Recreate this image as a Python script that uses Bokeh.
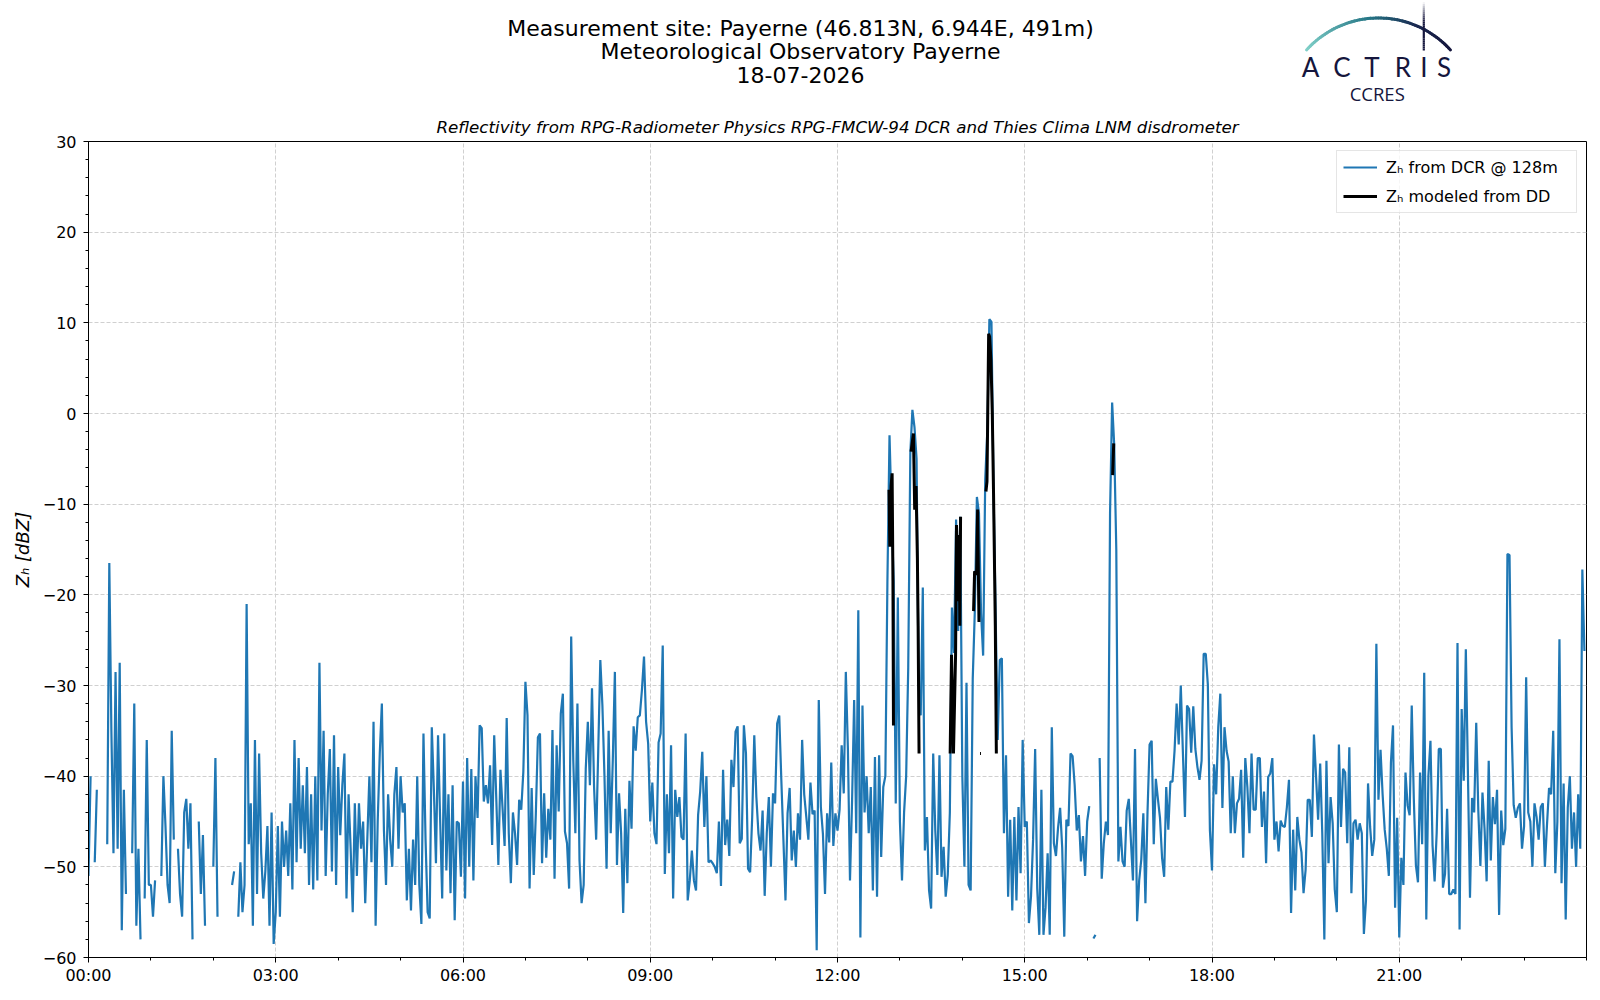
import numpy as np
from datetime import datetime, timezone
from bokeh.plotting import figure
from bokeh.models import Range1d, FixedTicker, DatetimeTickFormatter, ColumnDataSource
from bokeh.layouts import column
from bokeh.core.properties import value
from bokeh.embed import file_html
from bokeh.resources import INLINE

nan = float("nan")

# ---------------- data ----------------
title_lines = ["Measurement site: Payerne (46.813N, 6.944E, 491m)",
               "Meteorological Observatory Payerne",
               "18-07-2026"]
subtitle = "Reflectivity from RPG-Radiometer Physics RPG-FMCW-94 DCR and Thies Clima LNM disdrometer"
label_dcr = "Z\u2095 from DCR @ 128m"
label_dd = "Z\u2095 modeled from DD"
y_label = "Z\u2095 [dBZ]"
x_tick_hours = [0, 3, 6, 9, 12, 15, 18, 21]
x_tick_labels = ["00:00", "03:00", "06:00", "09:00", "12:00", "15:00", "18:00", "21:00"]
y_ticks = [-60, -50, -40, -30, -20, -10, 0, 10, 20, 30]

# DCR reflectivity, one value every 2 minutes, per hour (dBZ)
H00 = [-51, -40, nan, -49.5, -41.5, nan, nan, nan, nan, -47.5, -16.5, -35, -48.5, -28.5, -48, -27.5, -57, -41.5, -53, nan, nan, -48.5, -32, -56.5, -48, -58, nan, -53.5, -36, -52]
H01 = [-52, -55.5, -51.5, nan, nan, -51, -40, -45.5, -52, -54, -35, -47, nan, -48, -53, -55.5, -44, -42.5, -48, -43, -58, nan, nan, -45, -53, -46.5, -56.5, nan, nan, nan]
H02 = [-50, -38, -55.5, nan, nan, nan, nan, nan, nan, -52, -50.5, nan, -55.5, -49.5, -55, -52, -21, -47.5, -43, -56.5, -36, -53, -37.5, -48.5, -53.5, -50.5, -45.5, -56.5, -44, -58.5]
H03 = [-55, -45.5, -55.5, -45, -50, -46, -51, -43, -52.5, -36, -49.5, -38, -48, -41, -48.5, -39, -52, -42, -52.5, -40, -51.5, -27.5, -46, -35, -51, -42, -37, -50.5, -35.5, -52]
H04 = [-39, -46.5, -41, -37.5, -53.5, -42, -48, -55, -43, -51, -43, -48, -45, -54, -47, -40, -49.5, -34, -56.5, -45, -37.5, -32, -46, -52, -42, -47, -50, -42, -39, -48]
H05 = [-40, -44, -43, -53.7, -48, -54.8, -47, -52, -40, -52, -56.3, -35.3, -47, -55, -55.7, -34.6, -41.5, -49.6, -35.5, -44.7, -53.5, -35.3, -50.4, -42, -52.9, -41, -55.9, -45, -45.2, -51.1]
H06 = [-40.6, -53.5, -38, -50, -39.2, -51.5, -40, -44.6, -34.4, -34.7, -42.8, -41, -43, -38.8, -47.6, -35.5, -42.5, -49.8, -39.3, -43.5, -47.7, -33.6, -46.3, -51.8, -44, -46.3, -49.8, -42.6, -43.7, -39.5]
H07 = [-29.6, -33.3, -52.4, -41.3, -50.9, -44.2, -35.7, -35.3, -49.6, -41.9, -49, -43.6, -47, -34.9, -51.3, -36.6, -43.9, -33.1, -30.9, -46.1, -47.4, -52.4, -24.6, -38.2, -46.3, -32, -49.3, -54, -52, -39.2]
H08 = [-34, -41, -30.3, -41.2, -47, -37.2, -27.2, -32.2, -40, -50.2, -35, -46.3, -38.2, -28.5, -49.8, -41.9, -46.3, -55.1, -43.6, -51.8, -40.5, -45.8, -34.5, -37.2, -33.5, -33.3, -30.5, -26.8, -34, -36.4]
H09 = [-45, -40.7, -46.3, -47.5, -36.3, -35.3, -25.6, -50.8, -42, -48.5, -36.6, -53.5, -41.5, -44.5, -42.3, -46.7, -47, -35.3, -53.7, -51.5, -48.2, -51.5, -52.6, -44.3, -41.7, -37.3, -45.6, -40, -49.5, -49.3]
H10 = [-49.6, -50, -50.7, -45, -52.1, -39.3, -47.6, -44.8, -48.8, -38.2, -41.2, -35.1, -34.5, -47.4, -46.9, -34.4, -37.5, -50.2, -50.6, -44.5, -35.5, -42.3, -46.3, -48.2, -43.8, -53.2, -46.3, -42.3, -50, -41.9]
H11 = [-43, -34.2, -33.3, -40.4, -47, -53.7, -44.1, -41.3, -49.3, -46, -50, -44.1, -47, -36, -42, -44.5, -47, -40.7, -44.2, -43.8, -59.2, -31.6, -43.4, -46.4, -53, -44.1, -47.3, -38.5, -47.7, -44.1]
H12 = [-46, -43.7, -36.6, -41.9, -28.5, -37, -51.5, -42.8, -31.6, -46.3, -21.7, -57.8, -32.2, -44, -40, -46.3, -41.2, -52.6, -37.9, -53.3, -37.7, -48.9, -41.2, -40, -18.3, -2.4, -11, -18.5, -43, -20.3]
H13 = [-45, -51.5, -44, -40, -28, -4.4, 0.4, -1.5, -5, -30, -33.3, -19.2, -48.2, -44.5, -52.6, -54.6, -37.5, -46, -50.9, -37.7, -51.1, -47.8, -53.3, -50.9, -44, -21.4, -26.4, -11.7, -24, -11.4]
H14 = [-40, -50, -29.7, -52, -52.6, -29.3, -21.8, -9.2, -11, -22, -26.7, -7.3, -2, 10.4, 10.1, -8.5, -22, -36, -27.2, -27, -46.3, -37.7, -53.3, -44.8, -54.8, -44.5, -53.7, -43.4, -50.7, -36]
H15 = [-45.6, -45, -56.2, -53.3, -47, -37, -52.4, -57.5, -41.5, -57.5, -54.5, -48.5, -57.5, -34.6, -47.4, -48.8, -45.7, -43.5, -47.9, -57.7, -44.8, -45.5, -37.5, -37.8, -41, -46, -44.3, -49.4, -46.6, -51]
H16 = [-45, -43.3, nan, -57.9, -57.5, nan, -38, -51.3, -47.4, -45, -46.5, -11, 1.2, -3.5, -15, -49.4, -45.6, -49.4, -50, -43.8, -42.5, -47, -51.5, -37, -56, -51.5, -49.2, -44.1, -54, -44]
H17 = [-36.5, -36.1, -47.5, -40.3, -42.5, -44.6, -49, -51.1, -41.2, -45.9, -40.6, -40.6, -37.2, -32, -36.5, -30, -37.3, -44.5, -32.2, -32.6, -37.4, -32.3, -37, -39, -40.4, -38.3, -26.5, -26.5, -29.9, -46]
H18 = [-50.4, -38.7, -42, -34.6, -30.9, -43.5, -34.6, -37.2, -38.4, -46.3, -40, -46.3, -43, -42.5, -39.3, -49, -38, -41.2, -46.3, -37.5, -43.7, -43.7, -38, -38, -45.6, -41.7, -49.6, -40.1, -39.7, -38]
H19 = [-47, -45, -48.3, -44.9, -45.5, -45.6, -43.4, -40.4, -55.1, -45.9, -52.6, -44.5, -47, -48.4, -52.9, -50.3, -42.6, -42.6, -46.7, -35.4, -40, -44.8, -38.6, -46.3, -58, -38.3, -49.6, -42.3, -45.2, -52.5]
H20 = [-55, -36.5, -45.6, -39.2, -39.6, -47.4, -36.8, -52.9, -45.2, -44.8, -47, -45.2, -46.3, -57.4, -53.7, -40.8, -45.6, -48.8, -47, -25.4, -42.6, -37.1, -42, -45.9, -48, -51, -38.5, -34.4, -54.5, -44.6]
H21 = [-57.8, -49, -52, -39.6, -43.2, -44.3, -32.2, -42.5, -49.8, -51.7, -39.6, -47.5, -28.6, -55.8, -40, -36.1, -47.6, -51.6, -46.2, -37, -37, -52.3, -50.8, -43.6, -53, -53, -52.5, -53, -25.3, -56.9]
H22 = [-32.6, -40.5, -26, -39.6, -53.4, -42.4, -44, -34.1, -43.8, -49.9, -41.8, -45.8, -51.6, -38.3, -49.3, -42.3, -45.3, -41.5, -55.3, -43.8, -47.6, -45.8, -15.5, -15.6, -34.6, -43.2, -44.6, -43.5, -43, -48]
H23 = [-45.5, -29.1, -44, -45, -50, -43, -44.5, -47, -43.4, -43, -50, -45.4, -41.3, -42, -35, -50.7, -45, -24.9, -51.8, -40.8, -55.8, -43.5, -40, -48, -44, -50, -42, -48, -17.2, -26.2]

dcr_values = (H00 + H01 + H02 + H03 + H04 + H05 + H06 + H07 + H08 + H09 + H10 + H11
              + H12 + H13 + H14 + H15 + H16 + H17 + H18 + H19 + H20 + H21 + H22 + H23)
dcr_minutes = list(range(0, 1440, 2))

# Reflectivity modeled from disdrometer (minutes after midnight, dBZ); nan = no data
dd_minutes = [769.5, 770.3, 771.5, 772.5, 773.3, 773.8, 774.5,
              790.7, 793.0, 794.2, 795.5, 796.8, 797.5, 798.4, 799.0,
              828.3, 829.6, 831.5, 833.5, 834.4, 836.0, 837.0, 837.6, 838.3, 839.0,
              850.8, 851.8, 853.7, 854.7, 856.0, 856.5,
              857.0, 857.9, 858.3,
              862.7, 863.7, 865.3, 866.2, 867.5, 868.8, 870.0, 871.7, 872.7, 873.3,
              984.5, 985.5]
dd_values = [-8.4, -14.7, -8.0, -6.6, -18.5, -34.4, nan,
             -4.2, -2.2, -10.6, -8.0, -16.0, -23.4, -37.5, nan,
             -37.5, -26.6, -37.5, -26.6, -12.3, -20.7, -13.4, -23.4, -11.4, nan,
             -21.8, -17.4, -17.8, -10.6, -23.0, nan,
             -37.5, -37.5, nan,
             -8.6, -7.5, 8.8, 8.5, 5.9, 0.0, -8.8, -23.4, -37.5, nan,
             -6.8, -3.3]

# ---------------- time handling ----------------
base_ms = datetime(2026, 7, 18, tzinfo=timezone.utc).timestamp() * 1000.0
MS_MIN = 60000.0
MS_H = 3600000.0
dcr_t = [base_ms + m * MS_MIN for m in dcr_minutes]
dd_t = [base_ms + m * MS_MIN for m in dd_minutes]

FONT = "DejaVu Sans"
NAVY = "#15163d"
LEFT, RIGHT = 88, 6      # borders shared by header and chart (column aligns frames)
W = 1592

# ---------------- header (titles + logo) ----------------
hdr = figure(width=W, height=108, x_range=Range1d(LEFT, W - RIGHT), y_range=Range1d(108, 0),
             output_backend="svg", toolbar_location=None,
             min_border_left=LEFT, min_border_right=RIGHT, min_border_top=0, min_border_bottom=0,
             x_axis_location=None, y_axis_location=None, outline_line_color=None)
hdr.grid.visible = False
hdr.background_fill_color = "white"
hdr.border_fill_color = "white"

hdr.text(x=[800, 800, 800], y=[28.3, 51.3, 74.2], text=title_lines,
         text_align="center", text_baseline="middle",
         text_font=value(FONT), text_font_size="22px", text_color="black")

# logo arc with colour gradient
th = np.linspace(np.radians(137.9), np.radians(42.1), 61)
ax_ = 1378 + 97 * np.cos(th)
ay_ = 114.5 - 97 * np.sin(th)
stops = [(0.0, (128, 208, 200)), (0.45, (38, 118, 134)), (0.75, (26, 40, 80)), (1.0, (21, 22, 61))]
def grad(f):
    for (f0, c0), (f1, c1) in zip(stops[:-1], stops[1:]):
        if f <= f1:
            u = (f - f0) / (f1 - f0)
            return "#%02x%02x%02x" % tuple(int(round(a + (b - a) * u)) for a, b in zip(c0, c1))
    return "#%02x%02x%02x" % stops[-1][1]
segs_x = [[ax_[i], ax_[i + 1]] for i in range(len(th) - 1)]
segs_y = [[ay_[i], ay_[i + 1]] for i in range(len(th) - 1)]
seg_c = [grad(i / (len(th) - 2)) for i in range(len(th) - 1)]
hdr.multi_line(xs=segs_x, ys=segs_y, line_color=seg_c, line_width=3, line_cap="round")

# vertical stroke fading at its top
vy = np.linspace(1.5, 50, 26)
hdr.multi_line(xs=[[1423.3, 1423.3] for _ in range(len(vy) - 1)],
               ys=[[vy[i], vy[i + 1]] for i in range(len(vy) - 1)],
               line_color=NAVY, line_width=2.2,
               line_alpha=[min(1.0, 0.05 + i / 10.0) for i in range(len(vy) - 1)])

hdr.text(x=[1310, 1341.5, 1371.5, 1402.5, 1423.3, 1443.5], y=[66.7] * 6,
         text=["A", "C", "T", "R", "I", "S"], text_align="center", text_baseline="middle",
         text_font=value("Lato"), text_font_size="26px", text_color=NAVY)
hdr.text(x=[1376.7], y=[92.6], text=["CCRES"], text_align="center", text_baseline="middle",
         text_font=value("Open Sans"), text_font_size="18.5px", text_color=NAVY)

# ---------------- main chart ----------------
p = figure(width=W, height=884, x_axis_type="datetime",
           x_range=Range1d(base_ms, base_ms + 24 * MS_H), y_range=Range1d(-60, 30),
           output_backend="svg", toolbar_location=None,
           min_border_left=LEFT, min_border_right=RIGHT, min_border_top=33, min_border_bottom=35)
p.background_fill_color = "white"
p.border_fill_color = "white"
p.outline_line_color = "black"
p.outline_line_width = 1
p.outline_line_alpha = 1.0

p.title.text = subtitle
p.title.align = "center"
p.title.text_font = FONT
p.title.text_font_style = "italic"
p.title.text_font_size = "16.7px"
p.title.text_color = "black"
p.title.standoff = 9

src_dcr = ColumnDataSource(dict(t=dcr_t, z=dcr_values))
src_dd = ColumnDataSource(dict(t=dd_t, z=dd_values))
p.line(x="t", y="z", source=src_dcr, line_color="#1f77b4", line_width=2.2, legend_label=label_dcr)
p.line(x="t", y="z", source=src_dd, line_color="black", line_width=3, legend_label=label_dd)

# axes
p.xaxis.ticker = FixedTicker(ticks=[base_ms + h * MS_H for h in x_tick_hours],
                             minor_ticks=[base_ms + h * MS_H for h in range(25)])
p.xaxis.formatter = DatetimeTickFormatter(minutes="%H:%M", hourmin="%H:%M", hours="%H:%M", days="%H:%M")
p.yaxis.ticker = FixedTicker(ticks=y_ticks, minor_ticks=list(range(-60, 31, 2)))
p.yaxis.major_label_overrides = {v: (("\u2212%d" % -v) if v < 0 else str(v)) for v in y_ticks}

for ax in (p.xaxis[0], p.yaxis[0]):
    ax.axis_line_color = "black"
    ax.axis_line_width = 1
    ax.major_tick_line_color = "black"
    ax.minor_tick_line_color = "black"
    ax.major_tick_out = 5
    ax.major_tick_in = 0
    ax.minor_tick_out = 3
    ax.minor_tick_in = 0
    ax.major_label_text_font = FONT
    ax.major_label_text_font_size = "16px"
    ax.major_label_text_color = "black"

p.xaxis.major_label_standoff = 3
p.yaxis.major_label_standoff = 7
p.yaxis.axis_label = y_label
p.yaxis.axis_label_text_font = FONT
p.yaxis.axis_label_text_font_style = "italic"
p.yaxis.axis_label_text_font_size = "18px"
p.yaxis.axis_label_text_color = "black"
p.yaxis.axis_label_standoff = 7

for g in (p.xgrid[0], p.ygrid[0]):
    g.grid_line_color = "#d0d0d0"
    g.grid_line_dash = "4 2"
    g.grid_line_width = 1

lg = p.legend[0]
lg.location = "top_right"
lg.margin = 9
lg.padding = 6
lg.spacing = 9
lg.glyph_width = 34
lg.glyph_height = 20
lg.label_height = 20
lg.label_width = 184
lg.label_standoff = 9
lg.label_text_font = FONT
lg.label_text_font_size = "16px"
lg.label_text_color = "black"
lg.border_line_color = "#cccccc"
lg.border_line_width = 1
lg.background_fill_alpha = 0.8

layout = column(hdr, p)
open("out.html", "w").write(file_html(layout, INLINE))
